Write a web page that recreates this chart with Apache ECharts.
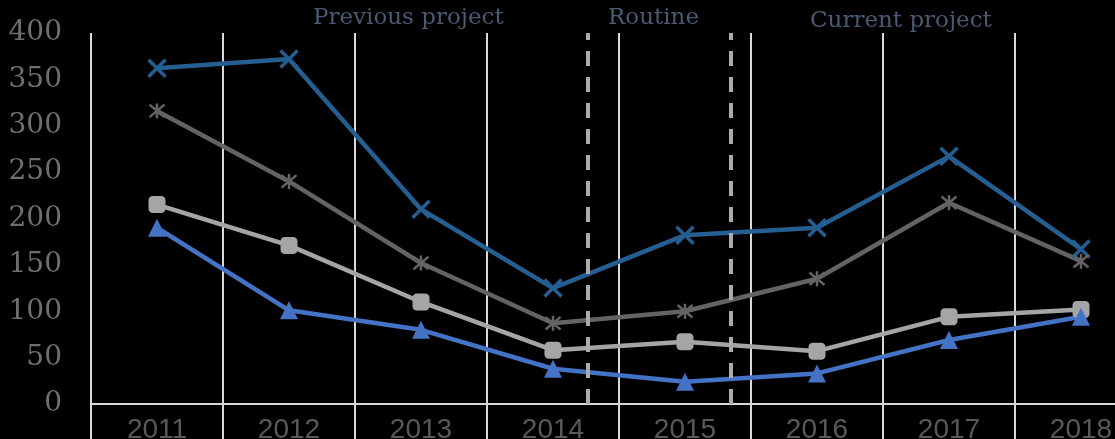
<!DOCTYPE html>
<html>
<head>
<meta charset="utf-8">
<script src="https://cdn.jsdelivr.net/npm/echarts@6/dist/echarts.min.js"></script>
<style>
  html, body { margin: 0; padding: 0; background: #000; }
  #main { width: 1115px; height: 439px; }
</style>
</head>
<body>
<div id="main"></div>
<script>
var years = ['2011', '2012', '2013', '2014', '2015', '2016', '2017', '2018'];
var yTicks = [0, 50, 100, 150, 200, 250, 300, 350, 400];

var darkBlue = [362, 372, 210, 125, 182, 190, 267, 167];
var darkGray = [316, 240, 152, 87, 100, 135, 217, 154];
var lightGray = [215, 171, 110, 58, 67, 57, 94, 102];
var blue = [190, 101, 80, 38, 24, 33, 69, 94];

// phase boundaries, in category units (0 = 2011)
var dividers = [3.26, 4.35];
var phases = ['Previous project', 'Routine', 'Current project'];

var myChart = echarts.init(document.getElementById('main'));

var crossPath = 'path://M0,0L10,10M10,0L0,10';
var starPath = 'path://M0,0L10,10M10,0L0,10M5,-1L5,11';

var option = {
    backgroundColor: '#000',
    animation: false,
    grid: {
        left: 91,
        right: -32,
        top: 33,
        bottom: 35,
        outerBoundsMode: 'none'
    },
    xAxis: [{
        type: 'category',
        data: years,
        boundaryGap: true,
        axisLine: { lineStyle: { color: '#d9d9d9', width: 2 } },
        axisTick: { show: true, length: 35, lineStyle: { color: '#d9d9d9', width: 2 } },
        axisLabel: {
            color: '#595959',
            fontFamily: 'Liberation Sans',
            fontSize: 28,
            margin: 12
        },
        splitLine: { show: true, lineStyle: { color: '#d9d9d9', width: 2 } }
    }, {
        type: 'value',
        min: -0.5,
        max: 7.5,
        show: false
    }],
    yAxis: {
        type: 'value',
        min: yTicks[0],
        max: yTicks[yTicks.length - 1],
        interval: 50,
        axisLine: { show: false },
        axisTick: { show: false },
        splitLine: { show: false },
        axisLabel: {
            color: '#6f6f6f',
            fontFamily: 'DejaVu Serif',
            fontSize: 28,
            margin: 29
        }
    },
    series: [{
        type: 'line',
        data: darkBlue,
        symbol: crossPath,
        symbolSize: 17,
        lineStyle: { color: '#255e91', width: 4.5 },
        itemStyle: { color: '#255e91', borderColor: '#255e91', borderWidth: 3.5 }
    }, {
        type: 'line',
        data: darkGray,
        symbol: starPath,
        symbolSize: 15,
        lineStyle: { color: '#636363', width: 4.5 },
        itemStyle: { color: '#636363', borderColor: '#636363', borderWidth: 2.5 }
    }, {
        type: 'line',
        data: lightGray,
        symbol: 'roundRect',
        symbolSize: 17,
        lineStyle: { color: '#a5a5a5', width: 4.5 },
        itemStyle: { color: '#a5a5a5' }
    }, {
        type: 'line',
        data: blue,
        symbol: 'triangle',
        symbolSize: 18,
        lineStyle: { color: '#4472c4', width: 4.5 },
        itemStyle: { color: '#4472c4' }
    }, {
        type: 'line',
        xAxisIndex: 1,
        data: [],
        silent: true,
        markLine: {
            silent: true,
            symbol: ['none', 'none'],
            label: { show: false },
            lineStyle: { color: '#ababab', width: 4, type: [15, 11] },
            data: dividers.map(function (d) { return { xAxis: d }; })
        }
    }],
    graphic: [{
        type: 'text', left: 313, top: 7,
        style: { text: phases[0], fill: '#4a5a73', font: '23px "DejaVu Serif"' }
    }, {
        type: 'text', left: 608, top: 7,
        style: { text: phases[1], fill: '#4a5a73', font: '23px "DejaVu Serif"' }
    }, {
        type: 'text', left: 810, top: 10,
        style: { text: phases[2], fill: '#4a5a73', font: '23px "DejaVu Serif"' }
    }]
};
myChart.setOption(option);
</script>
</body>
</html>
